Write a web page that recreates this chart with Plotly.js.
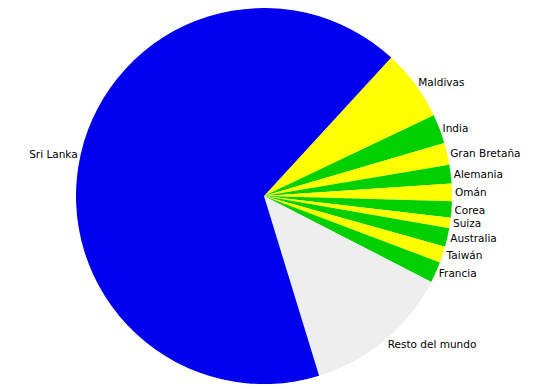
<!DOCTYPE html>
<html>
<head>
<meta charset="utf-8">
<script src="https://cdn.plot.ly/plotly-3.0.1.min.js"></script>
<style>html,body{margin:0;padding:0;background:#fff;}#chart{width:544px;height:389px;}</style>
</head>
<body>
<div id="chart"></div>
<script>
var labels = ["Maldivas", "India", "Gran Bretaña", "Alemania", "Omán", "Corea", "Suiza", "Australia", "Taiwán", "Francia", "Resto del mundo", "Sri Lanka"];
var values = [6.1, 2.5, 1.9, 1.6, 1.5, 1.4, 0.9, 1.6, 1.4, 1.8, 12.7, 66.5];
var colors = ["#ffff00", "#00d000", "#ffff00", "#00d000", "#ffff00", "#00d000", "#ffff00", "#00d000", "#ffff00", "#00d000", "#eeeeee", "#0000ee"];

Plotly.newPlot("chart", [{
  type: "pie",
  labels: labels,
  values: values,
  sort: false,
  direction: "clockwise",
  rotation: 42.6,
  marker: {colors: colors, line: {width: 0}},
  textinfo: "label",
  textposition: "outside",
  outsidetextfont: {family: "DejaVu Sans, Verdana, sans-serif", size: 10.5, color: "#000"},
  hoverinfo: "label+percent",
  domain: {x: [0, 0.9706], y: [0, 1]}
}], {
  width: 544,
  height: 389,
  margin: {l: 0, r: 0, t: 8, b: 5},
  showlegend: false,
  paper_bgcolor: "#ffffff"
}, {displayModeBar: false, staticPlot: true});
</script>
</body>
</html>
